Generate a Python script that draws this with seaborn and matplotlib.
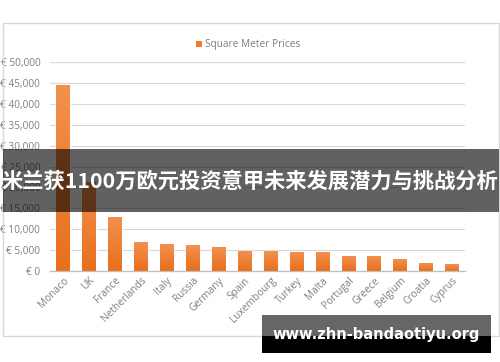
import matplotlib
matplotlib.use("Agg")
import matplotlib.pyplot as plt
import seaborn as sns
import pandas as pd
import numpy as np
from matplotlib.patches import Rectangle, Patch
from matplotlib.ticker import FuncFormatter, MultipleLocator
from matplotlib.colors import LinearSegmentedColormap

countries = ["Monaco", "UK", "France", "Netherlands", "Italy", "Russia", "Germany",
             "Spain", "Luxembourg", "Turkey", "Malta", "Portugal", "Greece",
             "Belgium", "Croatia", "Cyprus"]
prices = [44600, 21300, 12800, 6850, 6450, 6150, 5750, 4850, 4700, 4550, 4550,
          3650, 3500, 2950, 1900, 1650]
series_name = "Square Meter Prices"
banner_text = "米兰获1100万欧元投资意甲未来发展潜力与挑战分析"
watermark_text = "www.zhn-bandaotiyu.org"

df = pd.DataFrame({"Country": countries, "Price": prices})

sns.set_theme(style="white")
plt.rcParams['font.family'] = ['Open Sans', 'DejaVu Sans']

W, H = 500, 362
fig = plt.figure(figsize=(W / 100, H / 100), dpi=100)
fig.patch.set_facecolor("white")

def fx(px):
    return px / W

def fy(py):
    return 1 - py / H

ax = fig.add_axes([fx(50), fy(271), fx(465) - fx(50), fy(62) - fy(271)])
orange = "#EE7B2C"
sns.barplot(data=df, x="Country", y="Price", color=orange, width=0.52,
            saturation=1, ax=ax, zorder=3)
ax.set_xlim(-0.5, 15.5)
ax.set_ylim(0, 50000)

# vertical gradient fill inside each bar (lighter top, deeper bottom)
cmap = LinearSegmentedColormap.from_list("og", ["#E86F1C", "#F3914F"])
grad = np.linspace(0, 1, 256).reshape(-1, 1)
for p in list(ax.patches):
    x0, y0 = p.get_x(), p.get_y()
    w, h = p.get_width(), p.get_height()
    im = ax.imshow(grad, cmap=cmap, aspect="auto", origin="lower",
                   extent=(x0, x0 + w, y0, y0 + h), zorder=4)
    im.set_clip_path(p)
ax.set_xlim(-0.5, 15.5)
ax.set_ylim(0, 50000)

ax.yaxis.set_major_locator(MultipleLocator(5000))
ax.yaxis.set_major_formatter(FuncFormatter(lambda v, p: "€ 0" if v == 0 else f"€ {int(v):,}"))
ax.grid(axis="y", color="#d9d9d9", linewidth=0.8, zorder=0)
ax.set_axisbelow(True)
for s in ["top", "right", "left"]:
    ax.spines[s].set_visible(False)
ax.spines["bottom"].set_color("#bfbfbf")
ax.spines["bottom"].set_linewidth(0.9)
ax.spines["bottom"].set_zorder(5)
ax.set_xlabel("")
ax.set_ylabel("")
ax.tick_params(axis="both", length=0, colors="#7f7f7f", labelsize=7.3)
ax.tick_params(axis="y", pad=7)
ax.tick_params(axis="x", pad=3)
for lab in ax.get_xticklabels():
    lab.set_rotation(45)
    lab.set_ha("right")
    lab.set_rotation_mode("anchor")

handle = Patch(facecolor=orange, edgecolor="none")
fig.legend([handle], [series_name], loc="center", bbox_to_anchor=(fx(248), fy(45)),
           frameon=False, fontsize=7.3, labelcolor="#7f7f7f", handlelength=0.6,
           handleheight=0.6, handletextpad=0.3)

# chart frame
fig.patches.append(Rectangle((fx(2.5), fy(336)), fx(499) - fx(2.5), fy(23) - fy(336),
                             transform=fig.transFigure, fill=False,
                             edgecolor="#d9d9d9", linewidth=1, zorder=1))

# banner overlay
fig.patches.append(Rectangle((fx(3), fy(212)), fx(499) - fx(3), fy(149) - fy(212),
                             transform=fig.transFigure, facecolor="black", alpha=0.62,
                             edgecolor="none", zorder=10))
fig.text(fx(250), fy(181), banner_text, color="white", fontsize=15.35, fontweight="bold",
         ha="center", va="center", family=["Noto Sans CJK SC", "DejaVu Sans"], zorder=11)

# watermark
fig.patches.append(Rectangle((fx(262), fy(336)), fx(491) - fx(262), fy(315) - fy(336),
                             transform=fig.transFigure, facecolor="black", alpha=0.6,
                             edgecolor="none", zorder=10))
fig.patches.append(Rectangle((fx(262), fy(353)), fx(491) - fx(262), fy(336) - fy(353),
                             transform=fig.transFigure, facecolor="black",
                             edgecolor="none", zorder=10))
fig.text(fx(376), fy(335), watermark_text, color="white", fontsize=10.5, fontweight="bold",
         ha="center", va="center", family=["DejaVu Sans"], zorder=11)

fig.savefig("out.png", dpi=100)
